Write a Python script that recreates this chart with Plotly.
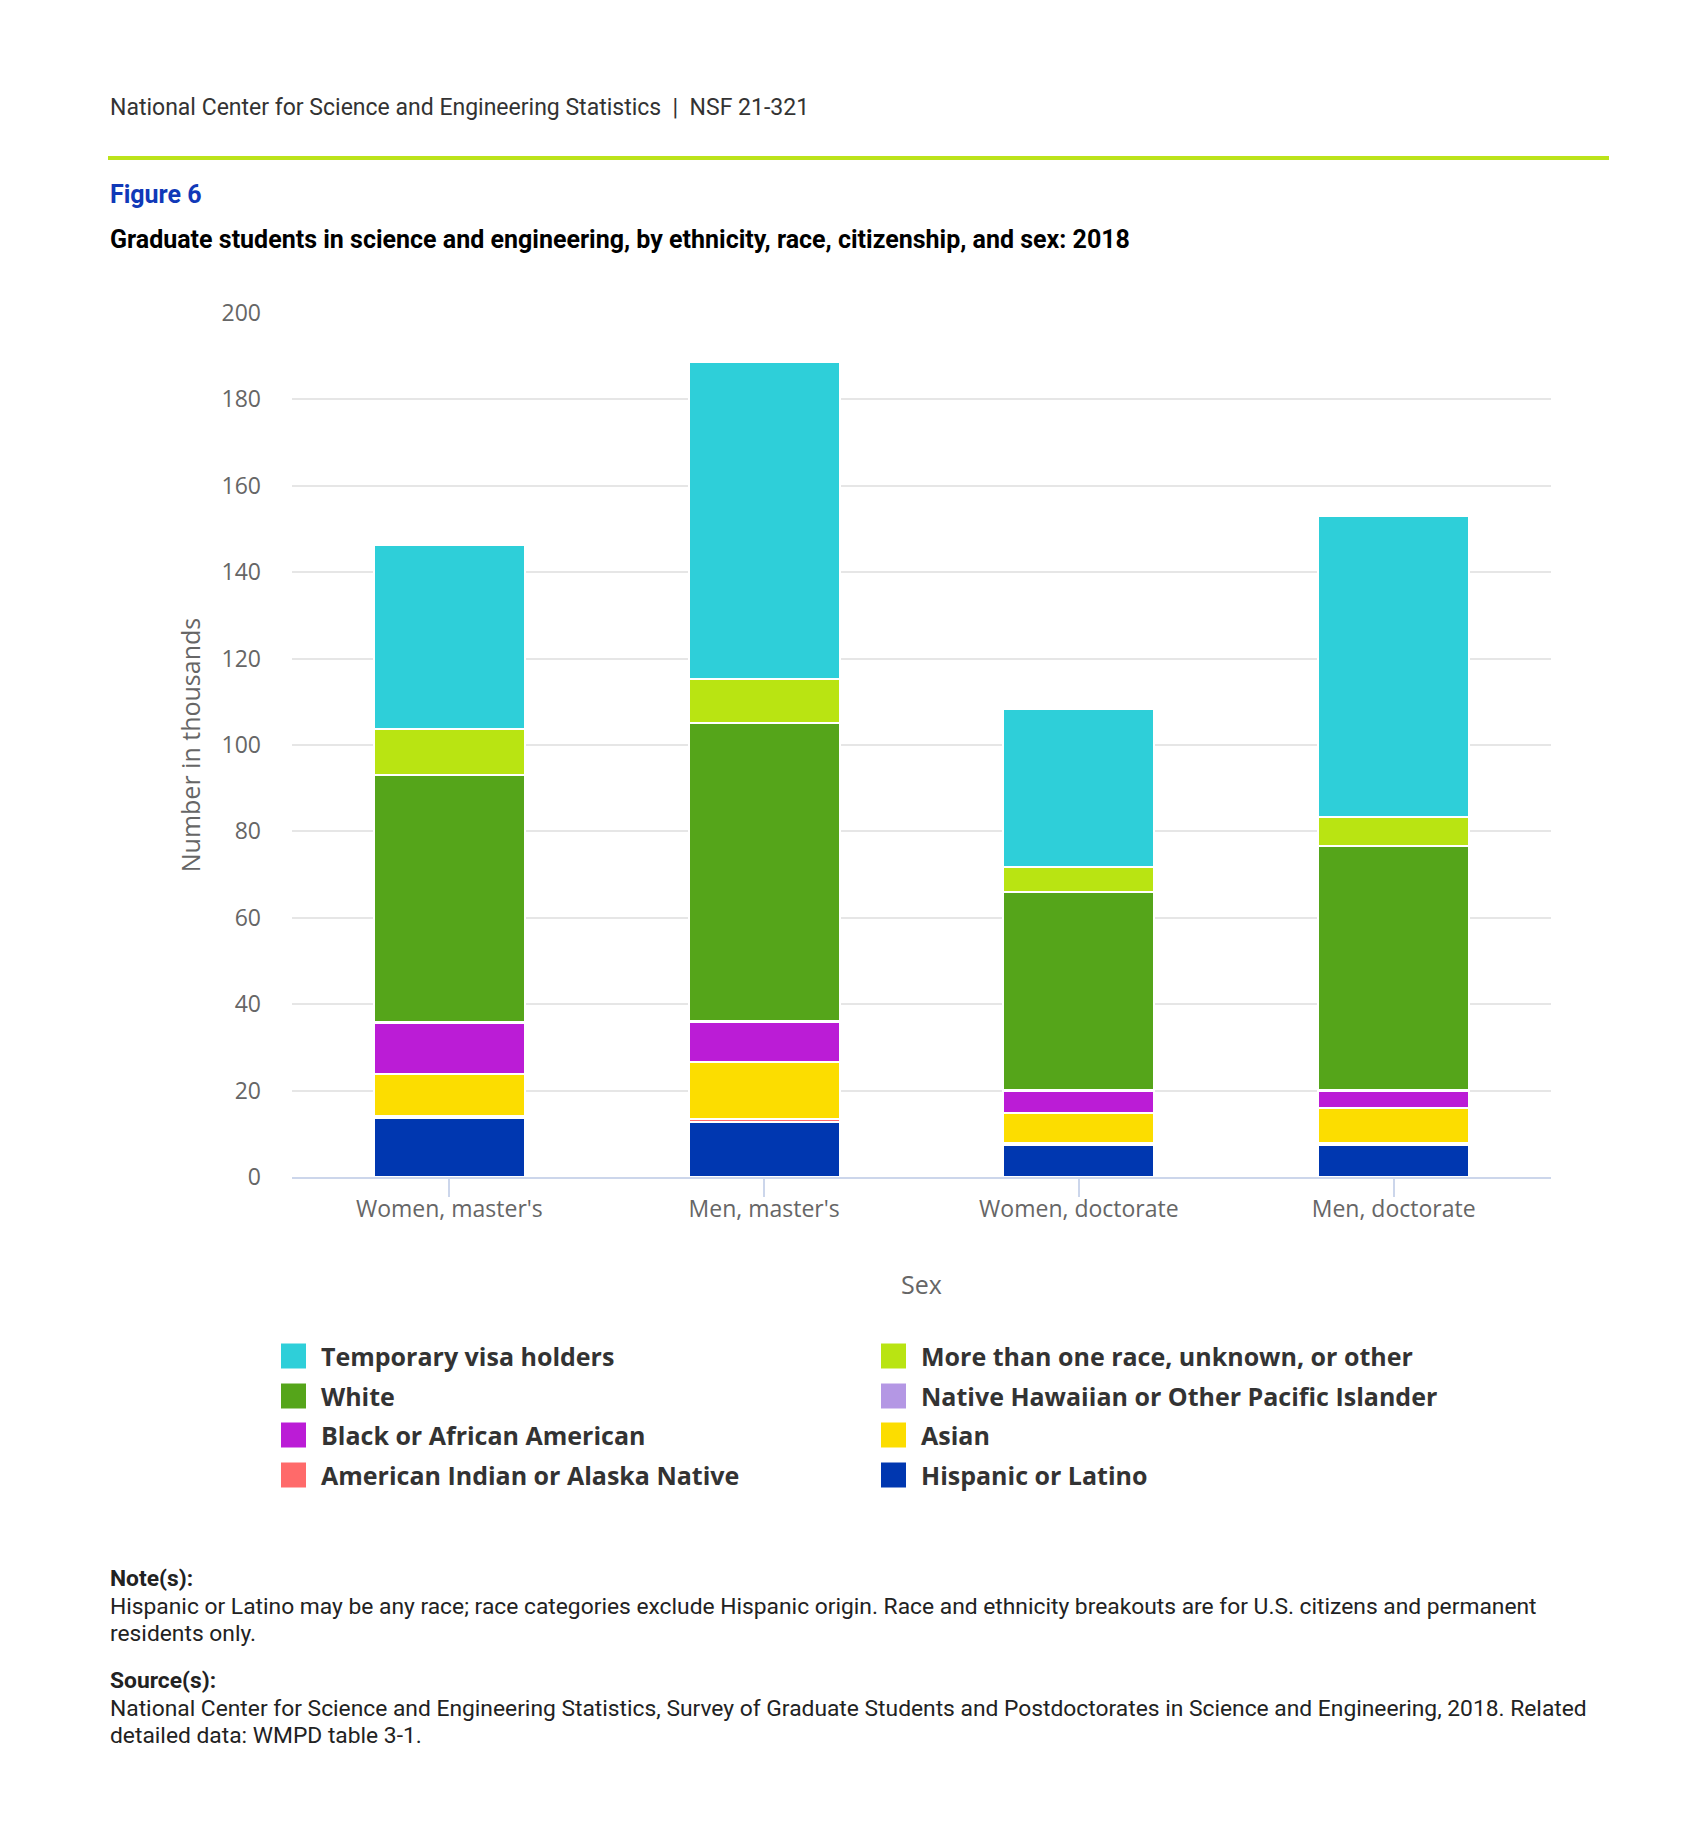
import plotly.graph_objects as go

# ---------------- data ----------------
categories = ["Women, master's", "Men, master's", "Women, doctorate", "Men, doctorate"]

# stacking order: bottom -> top (values in thousands)
series_names = [
    "Hispanic or Latino",
    "American Indian or Alaska Native",
    "Asian",
    "Black or African American",
    "Native Hawaiian or Other Pacific Islander",
    "White",
    "More than one race, unknown, or other",
    "Temporary visa holders",
]
hispanic = [13.6, 12.7, 7.5, 7.5]
american_indian = [0.5, 0.7, 0.3, 0.3]
asian = [9.7, 13.3, 7.0, 8.2]
black = [11.8, 9.2, 5.2, 3.8]
native_hawaiian = [0.2, 0.3, 0.1, 0.3]
white = [57.2, 68.9, 45.8, 56.5]
more_than_one = [10.7, 10.2, 5.9, 6.7]
temporary_visa = [42.5, 73.3, 36.5, 69.6]

series_values = [hispanic, american_indian, asian, black, native_hawaiian,
                 white, more_than_one, temporary_visa]
series_colors = ["#0037B0", "#FF6A6A", "#FCDD00", "#BB1CD6", "#B497E4",
                 "#55A51A", "#B9E412", "#2ECFD9"]

y_ticks = [0, 20, 40, 60, 80, 100, 120, 140, 160, 180, 200]

# legend order (row-wise, two columns)
legend_order = [
    "Temporary visa holders", "More than one race, unknown, or other",
    "White", "Native Hawaiian or Other Pacific Islander",
    "Black or African American", "Asian",
    "American Indian or Alaska Native", "Hispanic or Latino",
]

note_lines = [
    "<b>Note(s):</b>",
    "Hispanic or Latino may be any race; race categories exclude Hispanic origin. "
    "Race and ethnicity breakouts are for U.S. citizens and permanent",
    "residents only.",
]
source_lines = [
    "<b>Source(s):</b>",
    "National Center for Science and Engineering Statistics, Survey of Graduate "
    "Students and Postdoctorates in Science and Engineering, 2018. Related",
    "detailed data: WMPD table 3-1.",
]

# ---------------- layout geometry (pixels) ----------------
W, H = 1700, 1846
PL, PR, PT, PB = 284, 1543, 305, 1169   # plot area edges


def px_x(x):
    return (x - PL) / (PR - PL)


def px_y(y):
    return (PB - y) / (PB - PT)


fig = go.Figure()
for name, vals, col in zip(series_names, series_values, series_colors):
    fig.add_trace(go.Bar(
        x=categories, y=vals, name=name,
        marker=dict(color=col, line=dict(color="#ffffff", width=2)),
        showlegend=False,
        hovertemplate="%{x}<br>" + name + ": %{y}<extra></extra>",
    ))

shapes = []
annotations = []


def text_at(x, y, text, size, color, family="Roboto"):
    annotations.append(dict(
        x=px_x(x), y=px_y(y), xref="paper", yref="paper",
        xanchor="left", yanchor="middle", showarrow=False,
        text=text, font=dict(family=family, size=size, color=color),
    ))


# header
text_at(100, 100, "National Center for Science and Engineering Statistics&nbsp;&nbsp;|&nbsp;&nbsp;NSF 21-321",
        23, "#333333")
shapes.append(dict(
    type="line", xref="paper", yref="paper",
    x0=px_x(100), x1=px_x(1601), y0=px_y(150), y1=px_y(150),
    line=dict(color="#BCE31A", width=4),
))
text_at(100, 187, "<b>Figure 6</b>", 25, "#1039B8")
text_at(100, 231, "<b>Graduate students in science and engineering, by ethnicity, race, citizenship, and sex: 2018</b>",
        25, "#000000")

# manual legend
color_of = dict(zip(series_names, series_colors))
col_x = [273, 873]
row_y = [1348, 1388, 1427, 1467]
for i, name in enumerate(legend_order):
    r, c = divmod(i, 2)
    x0 = col_x[c]
    yc = row_y[r]
    shapes.append(dict(
        type="rect", xref="paper", yref="paper",
        x0=px_x(x0), x1=px_x(x0 + 25), y0=px_y(yc + 12.5), y1=px_y(yc - 12.5),
        fillcolor=color_of[name], line=dict(width=0),
    ))
    text_at(x0 + 38, yc, "<b>" + name + "</b>", 25, "#333333", family="Open Sans")

# notes and sources
for yy, line in zip([1570, 1598, 1625], note_lines):
    text_at(100, yy, line, 22.8, "#222222")
for yy, line in zip([1672, 1700, 1727], source_lines):
    text_at(100, yy, line, 22.8, "#222222")

fig.update_layout(
    width=W, height=H, autosize=False,
    margin=dict(l=PL, r=W - PR, t=PT, b=H - PB, pad=0),
    paper_bgcolor="#ffffff", plot_bgcolor="#ffffff",
    barmode="stack", bargap=0.52,
    showlegend=False,
    shapes=shapes, annotations=annotations,
    font=dict(family="Open Sans", color="#666666"),
    xaxis=dict(
        showgrid=False, showline=True, linecolor="#ccd6eb", linewidth=2,
        ticks="outside", ticklen=18, tickwidth=2, tickcolor="#ccd6eb",
        ticklabelstandoff=-8,
        tickfont=dict(family="Open Sans", size=23, color="#666666"),
        title=dict(text="Sex", font=dict(family="Open Sans", size=25, color="#666666"), standoff=54),
        automargin=False,
    ),
    yaxis=dict(
        range=[0, 200], tickvals=y_ticks, showgrid=True, gridcolor="#e6e6e6", gridwidth=2,
        zeroline=False, showline=False, ticks="",
        ticklabelstandoff=30,
        tickfont=dict(family="Open Sans", size=23, color="#666666"),
        title=dict(text="Number in thousands", font=dict(family="Open Sans", size=25, color="#666666"), standoff=13),
        automargin=False,
    ),
)

fig.write_html("out.html")
